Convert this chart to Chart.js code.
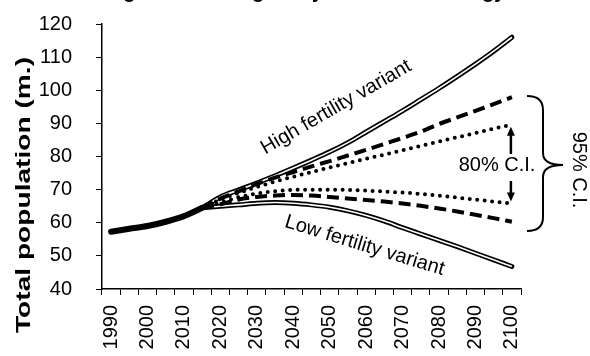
<!DOCTYPE html>
<html>
<head>
<meta charset="utf-8">
<script src="https://cdn.jsdelivr.net/npm/chart.js@4.4.0/dist/chart.umd.min.js"></script>
<style>
html, body { margin: 0; padding: 0; background: #fff; overflow: hidden; }
#wrap { width: 590px; height: 356px; position: relative; }
canvas { display: block; }
</style>
</head>
<body>
<div id="wrap"><canvas id="grafico"></canvas></div>
<script>
// años cada 5 (categorias del eje x)
const anios = ['1990', '1995', '2000', '2005', '2010', '2015', '2020', '2025', '2030', '2035', '2040', '2045',
               '2050', '2055', '2060', '2065', '2070', '2075', '2080', '2085', '2090', '2095', '2100'];

// poblacion observada 1990-2015
const observado = [57.3, 58.2, 59.0, 60.3, 62.0, 64.5];

// proyecciones 2015-2100
const variantAlta = [64.5, 67.8, 69.9, 72.0, 74.2, 76.5, 78.9, 81.4, 84.2, 87.4, 90.6, 93.8, 97.2, 100.6, 104.2, 107.9, 111.8, 116.0];
const variantBaja = [64.5, 65.0, 65.4, 65.9, 66.1, 65.9, 65.4, 64.7, 63.6, 62.2, 60.5, 58.5, 56.6, 54.7, 52.8, 50.8, 48.8, 46.8];
const sup95 = [64.5, 67.3, 69.5, 71.7, 73.6, 75.3, 77.0, 78.6, 80.3, 82.0, 83.8, 85.6, 87.5, 89.8, 91.8, 93.8, 95.8, 97.9];
const inf95 = [64.5, 65.6, 67.0, 67.8, 68.2, 68.4, 68.2, 67.8, 67.3, 66.9, 66.4, 65.8, 65.1, 64.3, 63.4, 62.4, 61.4, 60.3];
const sup80 = [64.5, 67.0, 69.0, 70.8, 72.4, 73.9, 75.3, 76.7, 78.0, 79.3, 80.6, 81.9, 83.2, 84.5, 85.8, 87.1, 88.4, 89.6];
const inf80 = [64.5, 66.0, 67.7, 68.8, 69.5, 69.9, 70.0, 70.0, 69.9, 69.7, 69.4, 69.1, 68.7, 68.2, 67.6, 67.0, 66.4, 65.8];

const titulo = 'Forecasting the UK using a Bayesian methodology';
const tituloY = 'Total population (m.)';

const FUENTE = '"Liberation Sans", Arial, sans-serif';

const relleno = (serie) => Array(anios.length - serie.length).fill(null).concat(serie);

const linea = (data, extra) => Object.assign({
    data: data,
    borderColor: '#000',
    pointRadius: 0,
    fill: false,
    cubicInterpolationMode: 'monotone'
}, extra);

// titulos, textos, flechas y llave de los intervalos
const anotaciones = {
    id: 'anotaciones',
    afterDraw(chart) {
        const ctx = chart.ctx;
        const x = chart.scales.x;
        const y = chart.scales.y;
        const xFin = x.getPixelForValue(anios.length - 1);
        ctx.save();
        ctx.fillStyle = '#000';
        ctx.strokeStyle = '#000';

        // titulo recortado arriba (solo se ven los descendentes)
        ctx.font = 'bold 20px ' + FUENTE;
        ctx.textAlign = 'left';
        ctx.textBaseline = 'alphabetic';
        ctx.fillText(titulo, 22, -2);

        // titulo del eje y
        ctx.save();
        ctx.translate(29.5, 195);
        ctx.rotate(-Math.PI / 2);
        ctx.font = 'bold 21px ' + FUENTE;
        ctx.textAlign = 'center';
        ctx.scale(276 / ctx.measureText(tituloY).width, 1);
        ctx.fillText(tituloY, 0, 0);
        ctx.restore();

        ctx.font = '20px ' + FUENTE;

        // etiquetas de variantes
        ctx.textAlign = 'center';
        ctx.save();
        ctx.translate(339, 112);
        ctx.rotate(-30 * Math.PI / 180);
        ctx.fillText('High fertility variant', 0, 0);
        ctx.restore();
        ctx.save();
        ctx.translate(363, 251);
        ctx.rotate(17 * Math.PI / 180);
        ctx.fillText('Low fertility variant', 0, 0);
        ctx.restore();

        // 80% C.I. con flechas
        const ySup = y.getPixelForValue(sup80[sup80.length - 1]) + 2;
        const yInf = y.getPixelForValue(inf80[inf80.length - 1]) - 2;
        const xa = xFin - 1;
        ctx.textBaseline = 'middle';
        ctx.fillText('80% C.I.', 497, 165);
        ctx.lineWidth = 2.5;
        ctx.beginPath();
        ctx.moveTo(xa, 154); ctx.lineTo(xa, ySup + 6);
        ctx.moveTo(xa, 181); ctx.lineTo(xa, yInf - 6);
        ctx.stroke();
        ctx.beginPath();
        ctx.moveTo(xa, ySup); ctx.lineTo(xa - 4, ySup + 9); ctx.lineTo(xa + 4, ySup + 9); ctx.closePath();
        ctx.moveTo(xa, yInf); ctx.lineTo(xa - 4, yInf - 9); ctx.lineTo(xa + 4, yInf - 9); ctx.closePath();
        ctx.fill();

        // llave 95%
        const t = 96, b = 231, m = 165;
        const x0 = 527, xs = 543, xp = 563;
        ctx.lineWidth = 2;
        ctx.beginPath();
        ctx.moveTo(x0, t);
        ctx.quadraticCurveTo(xs, t, xs, t + 14);
        ctx.lineTo(xs, m - 12);
        ctx.quadraticCurveTo(xs, m, xp, m);
        ctx.quadraticCurveTo(xs, m, xs, m + 12);
        ctx.lineTo(xs, b - 14);
        ctx.quadraticCurveTo(xs, b, x0, b);
        ctx.stroke();

        ctx.save();
        ctx.translate(579, 170);
        ctx.rotate(Math.PI / 2);
        ctx.fillText('95% C.I.', 0, 0);
        ctx.restore();

        ctx.restore();
    }
};

const grafico = new Chart(document.getElementById('grafico'), {
    type: 'line',
    data: {
        labels: anios,
        datasets: [
            linea(observado, { label: 'Observed', borderWidth: 6, borderCapStyle: 'round', order: 0 }),
            linea(relleno(sup80), { label: '80% upper', borderWidth: 4, borderDash: [0, 7.5], borderCapStyle: 'round', order: 1 }),
            linea(relleno(inf80), { label: '80% lower', borderWidth: 4, borderDash: [0, 7.5], borderCapStyle: 'round', order: 1 }),
            linea(relleno(sup95), { label: '95% upper', borderWidth: 4, borderDash: [12, 6], order: 2 }),
            linea(relleno(inf95), { label: '95% lower', borderWidth: 4, borderDash: [12, 6], order: 2 }),
            linea(relleno(variantAlta), { label: 'High inner', borderColor: '#fff', borderWidth: 1.6, order: 3 }),
            linea(relleno(variantBaja), { label: 'Low inner', borderColor: '#fff', borderWidth: 1.6, order: 3 }),
            linea(relleno(variantAlta), { label: 'High fertility variant', borderWidth: 5, borderCapStyle: 'round', order: 4 }),
            linea(relleno(variantBaja), { label: 'Low fertility variant', borderWidth: 5, borderCapStyle: 'round', order: 4 })
        ]
    },
    options: {
        responsive: true,
        maintainAspectRatio: false,
        animation: false,
        devicePixelRatio: 1,
        layout: { padding: { left: 39, right: 69, top: 24, bottom: 0 } },
        plugins: {
            legend: { display: false },
            tooltip: { enabled: false },
            title: { display: false }
        },
        scales: {
            x: {
                type: 'category',
                offset: true,
                afterFit: (escala) => { escala.height = 67; },
                grid: { offset: true, drawOnChartArea: false, drawTicks: true, tickLength: 6, color: '#000', lineWidth: 1 },
                border: { color: '#000', width: 1.5 },
                ticks: {
                    autoSkip: false,
                    maxRotation: 90,
                    minRotation: 90,
                    padding: 10,
                    color: '#000',
                    font: { family: FUENTE, size: 20 },
                    callback: (v, i) => i % 2 === 0 ? anios[i] : ''
                }
            },
            y: {
                min: 40,
                max: 120,
                afterFit: (escala) => {
                    escala.width = 63;
                    escala.paddingTop = 0;
                    escala.paddingBottom = 0;
                },
                grid: { drawOnChartArea: false, drawTicks: true, tickLength: 6, color: '#000', lineWidth: 1 },
                border: { color: '#000', width: 1.5 },
                ticks: { stepSize: 10, padding: 24, color: '#000', font: { family: FUENTE, size: 20 } }
            }
        }
    },
    plugins: [anotaciones]
});
</script>
</body>
</html>
